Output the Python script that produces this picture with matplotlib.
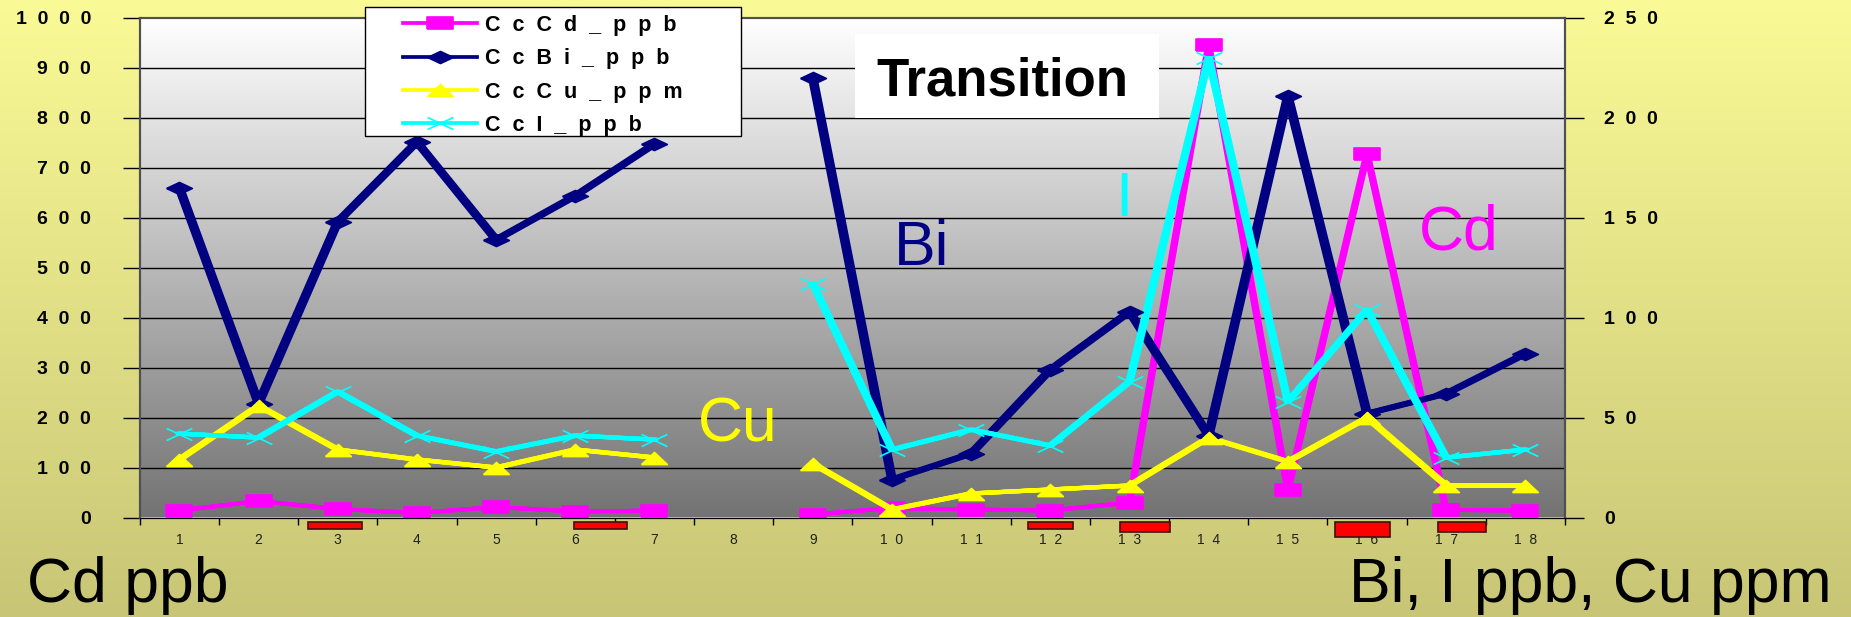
import numpy as np
import matplotlib
matplotlib.use("Agg")
from matplotlib import pyplot as plt
from matplotlib import patheffects as pe
from matplotlib.path import Path
from matplotlib.lines import Line2D
from matplotlib.patches import Rectangle
import matplotlib.transforms as mtransforms

nan = np.nan
samples = list(range(1, 19))
tick_labels = ['1', '2', '3', '4', '5', '6', '7', '8', '9',
               '1  0', '1  1', '1  2', '1  3', '1  4', '1  5', '1  6', '1  7', '1  8']

# left axis (ppb)
cd_ppb = [14, 33, 17, 9, 21, 12, 14, nan, 6, 19, 16, 14, 30, 945, 55, 728, 15, 14]
# right axis
bi_ppb = [165, 57, 148, 188, 139, 161, 187, nan, 220, 19, 32, 74, 103, 41, 211, 52, 62, 82]
cu_ppm = [29, 56, 34, 29, 25, 34, 30, nan, 27, 4, 12, 14, 16, 40, 28, 50, 16, 16]
i_ppb = [42, 40, 63, 41, 33, 41, 39, nan, 117, 34, 44, 36, 68, 230, 58, 104, 30, 34]

series_names = ['C  c  C  d  _  p  p  b', 'C  c  B  i  _  p  p  b',
                'C  c  C  u  _  p  p  m', 'C  c  I  _  p  p  b']
colors = ['#FF00FF', '#000080', '#FFFF00', '#00FFFF']

# red bars under the category axis: (start, end) in category units, depth in px
bar_spans = [(2.62, 3.31), (5.98, 6.65), (11.72, 12.28), (12.88, 13.51), (15.60, 16.29), (16.90, 17.50)]
bar_depths = [7, 7, 7, 10, 15, 10]

plt.rcParams['font.family'] = ['Liberation Sans', 'DejaVu Sans']

W, H = 1851, 617
fig = plt.figure(figsize=(W / 100, H / 100), dpi=100)

# yellow background
bg = fig.add_axes([0, 0, 1, 1])
bg.set_zorder(-5)
grad = np.linspace(0, 1, 256)[:, None]
top = np.array([250, 250, 150]) / 255
bot = np.array([200, 198, 118]) / 255
bg.imshow(top + (bot - top) * grad[:, :, None], aspect='auto', extent=[0, 1, 0, 1])
bg.axis('off')

x0, x1 = 139.8, 1565.0
y_top, y_bot = 18.0, 517.5
ax = fig.add_axes([x0 / W, 1 - y_bot / H, (x1 - x0) / W, (y_bot - y_top) / H])
ax.patch.set_visible(False)
pg = np.linspace(255, 115, 256)[:, None] / 255
ax.imshow(np.repeat(pg[:, :, None], 3, axis=2), aspect='auto', extent=[0, 1, 0, 1],
          transform=ax.transAxes, zorder=0)

ax2 = ax.twinx()

ax.set_xlim(0.5, 18.5)
ax.set_ylim(0, 1000)
ax2.set_ylim(0, 250)

for y in range(100, 1000, 100):
    ax.axhline(y, color='black', lw=1, zorder=1)

# markers stretched sideways: width twice the height
sq = [(-1, -0.47), (1, -0.47), (1, 0.47), (-1, 0.47), (-1, -0.47)]
dia = [(-1, 0), (0, 0.47), (1, 0), (0, -0.47), (-1, 0)]
tri = [(-1, -0.47), (0, 0.47), (1, -0.47), (-1, -0.47)]
cross = Path([(-1, -0.47), (1, 0.47), (-1, 0.47), (1, -0.47)],
             [Path.MOVETO, Path.LINETO, Path.MOVETO, Path.LINETO])


def wide_pen(lw):
    d = lw / 2
    return [pe.Stroke(offset=(o, 0)) for o in (-d, -d / 2, d / 2, d)] + [pe.Normal()]


x = np.array(samples)
data = [(ax, cd_ppb, 2.7, sq, True), (ax2, bi_ppb, 3.5, dia, True),
        (ax2, cu_ppm, 3.0, tri, True), (ax2, i_ppb, 3.0, cross, False)]
handles = []
for (a, vals, lw, mk, filled), c, name in zip(data, colors, series_names):
    a.plot(x, vals, color=c, lw=lw, solid_joinstyle='round', solid_capstyle='round',
           path_effects=wide_pen(lw), zorder=3)
    mfc = c if filled else 'none'
    a.plot(x, vals, ls='none', marker=mk, ms=18.5, mfc=mfc, mec=c, mew=1.2, zorder=4)
    handles.append(Line2D([], [], color=c, lw=2.7, marker=mk, ms=18.5, mfc=mfc, mec=c,
                          mew=1.2, label=name))

# x axis: labels at categories, tick marks between them
ax.set_xticks(samples)
ax.set_xticklabels(tick_labels, fontsize=10, color='#202020')
ax.tick_params(axis='x', length=0, pad=11)
ax.set_xticks(np.arange(0.5, 18.6, 1), minor=True)
ax.tick_params(axis='x', which='minor', length=5, direction='out', width=1)

ax.set_yticks(range(0, 1001, 100))
ax.set_yticklabels(['  '.join(str(v)) for v in range(0, 1001, 100)],
                   fontsize=14, fontweight='bold')
ax.tick_params(axis='y', length=12, width=1, pad=23)
ax2.set_yticks(range(0, 251, 50))
ax2.set_yticklabels(['  '.join(str(v)) for v in range(0, 251, 50)],
                    fontsize=14, fontweight='bold')
ax2.tick_params(axis='y', length=14, width=1, pad=14)

for a in (ax, ax2):
    for s in ('left', 'right', 'top'):
        a.spines[s].set_color('#505050')
        a.spines[s].set_linewidth(1.5)
    a.spines['bottom'].set_color('black')

# red bars below the axis
blend = mtransforms.blended_transform_factory(ax.transData, ax.transAxes)
ax_h = y_bot - y_top
for (s, e), dpx in zip(bar_spans, bar_depths):
    ax.add_patch(Rectangle((s, -(4 + dpx) / ax_h), e - s, dpx / ax_h, transform=blend,
                           facecolor='#FF0000', edgecolor='#401010', lw=1.2, clip_on=False,
                           zorder=5))

# legend box
fig.add_artist(Rectangle((365 / W, 1 - 136 / H), 376 / W, 129 / H, transform=fig.transFigure,
                         facecolor='white', edgecolor='black', lw=1, zorder=4))
leg = fig.legend(handles=handles, loc='upper left', bbox_to_anchor=(403 / W, 1 - 15 / H),
                 frameon=False, borderpad=0, borderaxespad=0, handlelength=3.46,
                 handletextpad=0.34, labelspacing=0.57, numpoints=1,
                 prop={'weight': 'bold', 'size': 15.5})
leg.set_zorder(6)

# title box
fig.add_artist(Rectangle((855 / W, 1 - 118 / H), 304 / W, 84 / H, transform=fig.transFigure,
                         facecolor='white', edgecolor='none', zorder=4))
fig.text(1002 / W, 1 - 96 / H, 'Transition', fontsize=38, fontweight='bold',
         ha='center', va='baseline', zorder=6)

fig.text(894 / W, 1 - 265 / H, 'Bi', fontsize=45, color='#000080', va='baseline')
fig.text(1115 / W, 1 - 216 / H, 'I', fontsize=45, color='#00FFFF', va='baseline')
fig.text(1419 / W, 1 - 250 / H, 'Cd', fontsize=45, color='#FF00FF', va='baseline')
fig.text(698 / W, 1 - 442 / H, 'Cu', fontsize=45, color='#FFFF00', va='baseline')

fig.text(27 / W, 1 - 602 / H, 'Cd ppb', fontsize=45, va='baseline')
fig.text(1832 / W, 1 - 602 / H, 'Bi, I ppb, Cu ppm', fontsize=45, va='baseline', ha='right')

fig.savefig('out.png', dpi=100)
